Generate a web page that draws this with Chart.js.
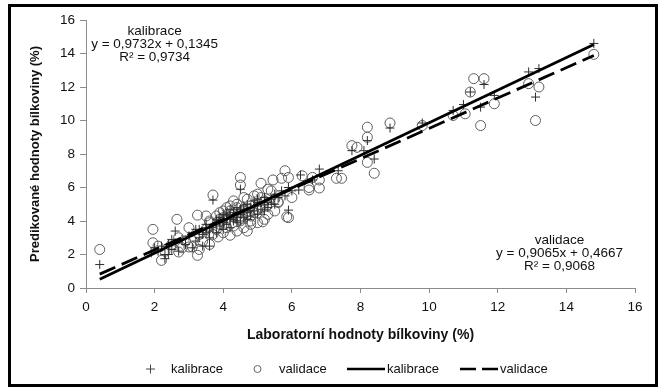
<!DOCTYPE html>
<html>
<head>
<meta charset="utf-8">
<script src="https://cdn.jsdelivr.net/npm/chart.js@4/dist/chart.umd.min.js"></script>
<style>
  html, body { margin: 0; padding: 0; background: #fff; }
  #wrap { width: 660px; height: 388px; position: relative; }
</style>
</head>
<body>
<div id="wrap"><canvas id="chart"></canvas></div>
<script>
// kalibrace (+) - laboratorní vs predikované hodnoty
const calX = [0.4, 2.1, 2.2, 2.3, 2.3, 2.4, 2.5, 2.6, 2.6, 2.7, 2.8, 2.9, 3.0, 3.1, 3.2, 3.2, 3.3, 3.4, 3.5, 3.5,
  3.6, 3.6, 3.7, 3.7, 3.8, 3.8, 3.9, 3.9, 4.0, 4.0, 4.0, 4.1, 4.1, 4.2, 4.2, 4.2, 4.3, 4.3, 4.4, 4.4,
  4.4, 4.5, 4.5, 4.5, 4.6, 4.6, 4.7, 4.7, 4.8, 4.8, 4.9, 4.9, 5.0, 5.0, 5.1, 5.1, 5.2, 5.2, 5.3, 5.4,
  5.5, 5.5, 5.6, 5.7, 5.8, 5.9, 5.9, 6.0, 6.2, 6.25, 6.6, 6.8, 7.35, 7.75, 8.1, 8.2, 8.4, 8.86, 9.8, 10.7,
  11.0, 11.2, 11.5, 11.6, 11.9, 12.9, 13.2, 13.1, 14.8,
  3.3, 3.4, 3.6, 3.8, 4.0, 4.1, 4.3, 4.5, 4.7, 4.9, 5.0, 5.3, 2.0, 1.9, 2.4, 2.5,
  3.7, 3.9, 4.1, 4.2, 4.4, 4.6, 4.8, 5.0, 5.2, 5.4, 3.5, 4.3];
const calY = [1.4, 2.2, 2.5, 2.0, 1.75, 2.6, 2.3, 2.7, 3.4, 2.2, 2.9, 2.6, 3.1, 2.4, 2.8, 3.5, 3.0, 2.5, 3.3, 3.8,
  3.0, 2.5, 5.25, 3.6, 3.9, 3.3, 4.2, 3.7, 4.0, 3.5, 4.4, 4.1, 3.8, 4.3, 3.6, 4.7, 4.0, 4.5, 4.2, 3.9,
  4.8, 4.4, 5.9, 4.0, 4.6, 4.2, 4.5, 5.0, 4.3, 4.8, 4.6, 5.2, 4.9, 4.4, 5.1, 4.7, 5.0, 5.4, 4.8, 5.3,
  5.6, 5.0, 5.4, 5.8, 5.5, 4.65, 6.0, 5.8, 5.85, 6.75, 6.45, 7.1, 7.0, 8.2, 8.2, 8.8, 7.7, 9.55, 9.85, 10.6,
  10.95, 11.7, 10.8, 12.15, 11.5, 12.9, 13.1, 11.4, 14.6,
  3.5, 3.2, 3.4, 4.1, 3.9, 4.4, 4.1, 4.7, 4.1, 4.9, 5.3, 5.1, 2.4, 2.1, 2.0, 2.9,
  3.8, 4.0, 4.3, 4.1, 4.5, 4.9, 4.6, 5.1, 4.6, 5.0, 3.6, 4.3];

// validace (o)
const valX = [0.4, 1.95, 1.95, 2.1, 2.2, 2.3, 2.5, 2.65, 2.7, 2.7, 2.9, 3.0, 3.1, 3.25, 3.25, 3.3, 3.4, 3.5, 3.6, 3.6,
  3.7, 3.8, 3.85, 3.9, 4.0, 4.0, 4.1, 4.2, 4.2, 4.3, 4.3, 4.4, 4.4, 4.5, 4.5, 4.5, 4.6, 4.6, 4.7, 4.8,
  4.8, 4.9, 5.0, 5.0, 5.1, 5.1, 5.15, 5.2, 5.3, 5.4, 5.45, 5.5, 5.6, 5.6, 5.7, 5.8, 5.85, 5.9, 5.9, 6.0,
  6.3, 6.5, 6.5, 6.6, 6.8, 6.8, 7.3, 7.45, 7.75, 7.9, 8.2, 8.2, 8.4, 8.2, 8.86, 9.8, 10.7, 11.05, 11.5, 11.9,
  11.2, 11.3, 11.6, 12.9, 13.2, 13.1, 14.8,
  3.5, 3.7, 3.9, 4.1, 4.3, 4.6, 4.7, 4.9, 5.2, 5.3, 3.0, 2.8, 4.4, 4.8, 5.5, 3.3,
  3.6, 3.8, 4.0, 4.2, 4.5, 4.7, 5.0, 5.1, 4.4, 3.9, 4.1, 4.8];
const valY = [2.3, 3.5, 2.7, 2.5, 1.65, 2.2, 2.6, 4.1, 2.15, 3.0, 2.8, 2.45, 2.45, 1.95, 4.35, 3.2, 2.8, 3.5, 4.0, 2.6,
  5.55, 4.3, 3.05, 3.8, 4.6, 3.3, 4.2, 3.15, 4.9, 3.7, 4.4, 5.0, 3.4, 6.6, 6.15, 4.1, 4.7, 3.6, 5.3, 4.0,
  3.8, 4.5, 5.6, 3.9, 6.25, 4.8, 3.95, 5.2, 4.4, 5.8, 6.45, 4.6, 5.1, 5.15, 6.55, 7.0, 4.25, 6.6, 4.2, 5.4,
  6.7, 6.0, 5.85, 6.6, 6.45, 5.97, 6.55, 6.55, 8.5, 8.4, 9.0, 7.5, 6.85, 9.6, 9.85, 9.7, 10.3, 10.4, 9.7, 11.0,
  11.7, 12.5, 12.5, 12.2, 12.0, 10.0, 13.95,
  4.3, 3.2, 4.5, 3.6, 5.2, 5.4, 3.4, 5.5, 4.1, 5.9, 3.6, 2.4, 4.3, 4.9, 5.3, 2.3,
  3.9, 3.5, 4.2, 4.6, 4.0, 4.4, 4.7, 5.4, 4.8, 4.1, 4.8, 4.3];

// lineární trendy (koncové body)
const calLineX = [0.4, 14.8];
const calLineY = [0.52, 14.54];
const valLineX = [0.4, 14.8];
const valLineY = [0.83, 13.88];

const axisTicks = [0, 2, 4, 6, 8, 10, 12, 14, 16];

const FONT = "'Liberation Sans', Arial, sans-serif";
const GRAY_AXIS = "#8c8c8c";

const toPoints = (xs, ys) => xs.map((x, i) => ({ x: x, y: ys[i] }));

// rámeček, rovnice a legenda
const decorPlugin = {
  id: 'decor',
  afterDraw(chart) {
    const ctx = chart.ctx;
    const sx = chart.scales.x, sy = chart.scales.y;
    ctx.save();
    ctx.strokeStyle = "#000";
    ctx.lineWidth = 3;
    ctx.strokeRect(9.5, 5.5, 647, 380);

    ctx.fillStyle = "#111";
    ctx.font = "13.5px " + FONT;
    ctx.textAlign = "center";
    ctx.textBaseline = "middle";
    const cal = ["kalibrace", "y = 0,9732x + 0,1345", "R² = 0,9734"];
    const val = ["validace", "y = 0,9065x + 0,4667", "R² = 0,9068"];
    const cx = sx.getPixelForValue(2.0), cy = sy.getPixelForValue(15.3);
    cal.forEach((t, i) => ctx.fillText(t, cx, cy + i * 13));
    const vx = sx.getPixelForValue(13.8), vy = sy.getPixelForValue(2.87);
    val.forEach((t, i) => ctx.fillText(t, vx, vy + i * 13));

    // legenda
    const ly = 369;
    ctx.textAlign = "left";
    ctx.font = "13px " + FONT;
    ctx.strokeStyle = "#444";
    ctx.lineWidth = 1;
    ctx.beginPath();
    ctx.moveTo(146, ly); ctx.lineTo(155, ly);
    ctx.moveTo(150.5, ly - 4.5); ctx.lineTo(150.5, ly + 4.5);
    ctx.stroke();
    ctx.fillText("kalibrace", 171, ly);

    ctx.strokeStyle = "#666";
    ctx.beginPath();
    ctx.arc(257.5, ly, 3.5, 0, Math.PI * 2);
    ctx.stroke();
    ctx.fillText("validace", 279, ly);

    ctx.strokeStyle = "#000";
    ctx.lineWidth = 2.5;
    ctx.beginPath();
    ctx.moveTo(347, ly); ctx.lineTo(385, ly);
    ctx.stroke();
    ctx.fillText("kalibrace", 387, ly);

    ctx.setLineDash([16, 6]);
    ctx.beginPath();
    ctx.moveTo(460, ly); ctx.lineTo(498, ly);
    ctx.stroke();
    ctx.setLineDash([]);
    ctx.fillText("validace", 500, ly);
    ctx.restore();
  }
};

window.onload = function () {
  const ctx = document.getElementById('chart').getContext('2d');
  new Chart(ctx, {
    type: 'scatter',
    data: {
      datasets: [
        {
          label: 'kalibrace',
          data: toPoints(calLineX, calLineY),
          showLine: true, borderColor: "#000", borderWidth: 2.8,
          pointRadius: 0, order: 0
        },
        {
          label: 'validace',
          data: toPoints(valLineX, valLineY),
          showLine: true, borderColor: "#000", borderWidth: 2.8,
          borderDash: [17, 7], pointRadius: 0, order: 1
        },
        {
          label: 'kalibrace',
          data: toPoints(calX, calY),
          pointStyle: 'cross', pointRadius: 4.5, borderWidth: 1,
          borderColor: "#2e2e2e", backgroundColor: "transparent", order: 2
        },
        {
          label: 'validace',
          data: toPoints(valX, valY),
          pointStyle: 'circle', pointRadius: 5, borderWidth: 1,
          borderColor: "#5e5e5e", backgroundColor: "transparent", order: 3
        }
      ]
    },
    options: {
      responsive: true,
      maintainAspectRatio: false,
      animation: false,
      layout: { padding: { left: 24, right: 25, top: 20, bottom: 40 } },
      plugins: { legend: { display: false }, tooltip: { enabled: false } },
      scales: {
        x: {
          type: 'linear', min: 0, max: 16,
          afterBuildTicks: (s) => { s.ticks = axisTicks.map(v => ({ value: v })); },
          afterFit: (s) => { s.height = 60; },
          grid: { drawOnChartArea: false, drawTicks: true, tickLength: 5, color: GRAY_AXIS },
          border: { display: true, color: GRAY_AXIS, width: 1 },
          ticks: { color: "#111", padding: 6, font: { family: FONT, size: 13.5 }, maxRotation: 0 },
          title: { display: true, text: 'Laboratorní hodnoty bílkoviny (%)', color: "#111",
                   font: { family: FONT, size: 14, weight: 'bold' }, padding: { top: 4, bottom: 4 } }
        },
        y: {
          type: 'linear', min: 0, max: 16,
          afterBuildTicks: (s) => { s.ticks = axisTicks.map(v => ({ value: v })); },
          afterFit: (s) => { s.width = 62; },
          grid: { drawOnChartArea: false, drawTicks: true, tickLength: 6, color: GRAY_AXIS },
          border: { display: true, color: GRAY_AXIS, width: 1 },
          ticks: { color: "#111", padding: 5, font: { family: FONT, size: 13.5 } },
          title: { display: true, text: 'Predikované hodnoty bílkoviny (%)', color: "#111",
                   font: { family: FONT, size: 13, weight: 'bold' }, padding: { top: 4, bottom: 4 } }
        }
      }
    },
    plugins: [decorPlugin]
  });
};
</script>
</body>
</html>
